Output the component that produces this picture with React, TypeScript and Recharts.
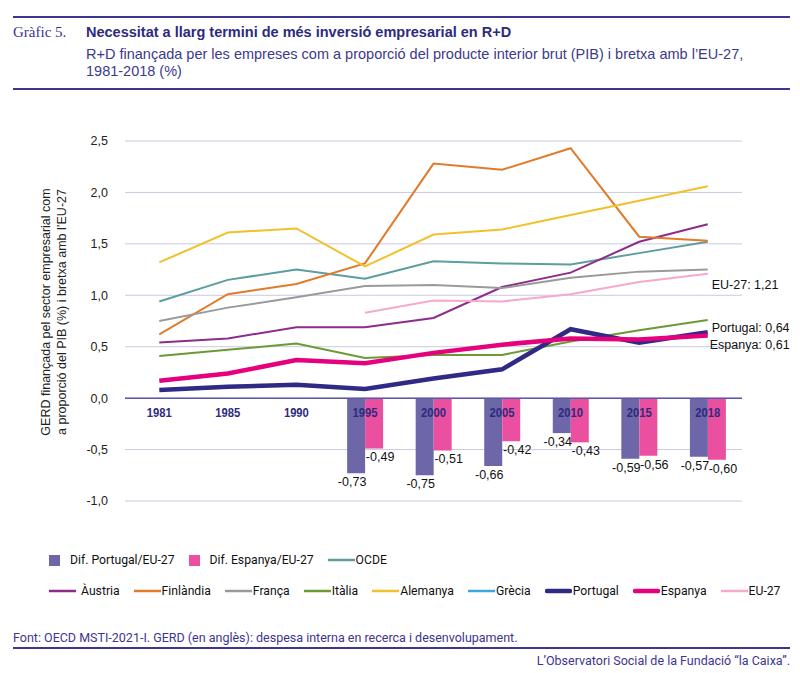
import React from 'react';
import {
  ComposedChart,
  Bar,
  Line,
  XAxis,
  YAxis,
  CartesianGrid,
  ReferenceLine,
  LabelList,
} from 'recharts';

const years = ['1981', '1985', '1990', '1995', '2000', '2005', '2010', '2015', '2018'];

const austria = [0.54, 0.58, 0.69, 0.69, 0.78, 1.08, 1.22, 1.52, 1.69];
const finland = [0.62, 1.01, 1.11, 1.31, 2.28, 2.22, 2.43, 1.57, 1.53];
const france = [0.75, 0.88, 0.98, 1.09, 1.1, 1.07, 1.17, 1.23, 1.25];
const italy = [0.41, 0.47, 0.53, 0.39, 0.42, 0.42, 0.55, 0.66, 0.76];
const germany = [1.32, 1.61, 1.65, 1.28, 1.59, 1.64, 1.78, 1.92, 2.06];
const greece = [null, null, null, null, null, null, null, null, null];
const portugal = [0.08, 0.11, 0.13, 0.09, 0.19, 0.28, 0.67, 0.54, 0.64];
const spain = [0.17, 0.24, 0.37, 0.34, 0.44, 0.52, 0.58, 0.57, 0.61];
const eu27 = [null, null, null, 0.83, 0.95, 0.94, 1.01, 1.13, 1.21];
const oecd = [0.94, 1.15, 1.25, 1.16, 1.33, 1.31, 1.3, 1.41, 1.52];

const difPortugal = [null, null, null, -0.73, -0.75, -0.66, -0.34, -0.59, -0.57];
const difSpain = [null, null, null, -0.49, -0.51, -0.42, -0.43, -0.56, -0.6];

const yTicks = [-1, -0.5, 0, 0.5, 1, 1.5, 2, 2.5];

const data = years.map((year, i) => ({
  year,
  zero: 0,
  austria: austria[i],
  finland: finland[i],
  france: france[i],
  italy: italy[i],
  germany: germany[i],
  greece: greece[i],
  portugal: portugal[i],
  spain: spain[i],
  eu27: eu27[i],
  oecd: oecd[i],
  difPortugal: difPortugal[i],
  difSpain: difSpain[i],
}));

const PURPLE = '#2e2a7e';
const NARROW = "Roboto, 'Liberation Sans', sans-serif";
const SANS = "'Liberation Sans', Arial, sans-serif";

const lines = [
  { key: 'oecd', name: 'OCDE', color: '#5c9d9d', width: 2 },
  { key: 'austria', name: 'Àustria', color: '#8e2c8c', width: 2 },
  { key: 'finland', name: 'Finlàndia', color: '#e07b29', width: 2 },
  { key: 'france', name: 'França', color: '#9a9a9a', width: 2 },
  { key: 'italy', name: 'Itàlia', color: '#6b9a35', width: 2 },
  { key: 'germany', name: 'Alemanya', color: '#f0c12a', width: 2 },
  { key: 'greece', name: 'Grècia', color: '#3ba7dd', width: 2 },
  { key: 'portugal', name: 'Portugal', color: '#2e2a86', width: 4.5 },
  { key: 'spain', name: 'Espanya', color: '#e5007d', width: 4.5 },
  { key: 'eu27', name: 'EU-27', color: '#f5a9cb', width: 2 },
];

const bars = [
  { key: 'difPortugal', name: 'Dif. Portugal/EU-27', color: '#6d66a9', dx: -4 },
  { key: 'difSpain', name: 'Dif. Espanya/EU-27', color: '#eb4f9f', dx: 6 },
];

const endLabels: Record<string, { text: string; dx: number; dy: number }> = {
  eu27: { text: 'EU-27: 1,21', dx: 4, dy: 11 },
  portugal: { text: 'Portugal: 0,64', dx: 4, dy: -4 },
  spain: { text: 'Espanya: 0,61', dx: 2, dy: 10 },
};

const fmt = (v: number) => v.toFixed(2).replace('.', ',');

function YearTick(props: any) {
  const { cx, cy, payload, index } = props;
  if (cx == null || cy == null) return null;
  return (
    <text
      key={`yr-${index}`}
      x={cx}
      y={cy + 19}
      textAnchor="middle"
      fontFamily={SANS}
      fontWeight="bold"
      fontSize={12.5}
      fill={PURPLE}
      textLength={25}
      lengthAdjust="spacingAndGlyphs"
    >
      {payload.year}
    </text>
  );
}

function YTitle(props: any) {
  const { viewBox } = props;
  const cy = viewBox.y + viewBox.height / 2 - 9;
  return (
    <g fontFamily={SANS} fontSize={12.5} fill="#222" textAnchor="middle">
      <text transform={`translate(50, ${cy}) rotate(-90)`}>GERD finançada pel sector empresarial com</text>
      <text transform={`translate(66, ${cy}) rotate(-90)`}>a proporció del PIB (%) i bretxa amb l’EU-27</text>
    </g>
  );
}

function LegendLine({ color, width }: { color: string; width: number }) {
  const thick = width > 3;
  return (
    <svg width={27} height={8} style={{ display: 'block', flexShrink: 0 }}>
      <line
        x1={thick ? 2 : 0}
        y1={4}
        x2={thick ? 25 : 27}
        y2={4}
        stroke={color}
        strokeWidth={thick ? 4.5 : 2.5}
        strokeLinecap={thick ? 'round' : 'butt'}
      />
    </svg>
  );
}

function ChartLegend() {
  const itemStyle: React.CSSProperties = { display: 'flex', alignItems: 'center', marginRight: 14, flexShrink: 0 };
  const textStyle: React.CSSProperties = { fontFamily: NARROW, fontSize: 12.2, color: '#111', whiteSpace: 'nowrap' };
  const row2 = lines.slice(1);
  return (
    <div style={{ position: 'absolute', left: 49, top: 550, width: 760 }}>
      <div style={{ display: 'flex', alignItems: 'center', height: 20 }}>
        {bars.map((b) => (
          <div key={b.key} style={itemStyle}>
            <div style={{ width: 11, height: 11, background: b.color, marginRight: 10 }} />
            <span style={textStyle}>{b.name}</span>
          </div>
        ))}
        <div style={itemStyle}>
          <LegendLine color={lines[0].color} width={lines[0].width} />
          <span style={{ ...textStyle, marginLeft: 1 }}>{lines[0].name}</span>
        </div>
      </div>
      <div style={{ display: 'flex', alignItems: 'center', height: 20, marginTop: 11 }}>
        {row2.map((l, i) => (
          <div key={l.key} style={itemStyle}>
            <LegendLine color={l.color} width={l.width} />
            <span style={{ ...textStyle, marginLeft: i === 0 ? 5 : 1 }}>{l.name}</span>
          </div>
        ))}
      </div>
    </div>
  );
}

export default function App() {
  return (
    <div style={{ position: 'absolute', left: 0, top: 0, width: 800, height: 673, background: '#fff', overflow: 'hidden' }}>
      <div style={{ position: 'absolute', left: 13, top: 16, width: 777, height: 2, background: '#3d3590' }} />
      <div style={{ position: 'absolute', left: 13, top: 24, fontFamily: "'Liberation Serif', serif", fontSize: 15, color: '#3d3590' }}>
        Gràfic 5.
      </div>
      <div style={{ position: 'absolute', left: 86, top: 24, fontFamily: SANS, fontWeight: 'bold', fontSize: 14.5, color: PURPLE }}>
        Necessitat a llarg termini de més inversió empresarial en R+D
      </div>
      <div style={{ position: 'absolute', left: 86, top: 46, width: 690, fontFamily: SANS, fontSize: 14.5, lineHeight: '17px', color: '#3d3a8a' }}>
        R+D finançada per les empreses com a proporció del producte interior brut (PIB) i bretxa amb l’EU-27,
        <br />
        1981-2018 (%)
      </div>
      <div style={{ position: 'absolute', left: 13, top: 88, width: 777, height: 2, background: '#3d3590' }} />

      <div style={{ position: 'absolute', left: 0, top: 0 }}>
        <ComposedChart
          width={800}
          height={673}
          data={data}
          margin={{ top: 141, right: 58, bottom: 172, left: 0 }}
          barCategoryGap="24%"
          barGap={0}
        >
          <CartesianGrid vertical={false} stroke="#cbc8e3" strokeWidth={1} />
          <XAxis dataKey="year" hide />
          <YAxis
            type="number"
            domain={[-1, 2.5]}
            ticks={yTicks}
            width={125}
            axisLine={false}
            tickLine={false}
            tickSize={0}
            tickMargin={17}
            tickFormatter={(v: number) => v.toFixed(1).replace('.', ',')}
            tick={{ fontFamily: SANS, fontSize: 12.5, fill: '#222' }}
            label={<YTitle />}
          />
          {bars.map((b) => (
            <Bar key={b.key} dataKey={b.key} name={b.name} fill={b.color} isAnimationActive={false}>
              <LabelList
                dataKey={b.key}
                position="top"
                offset={4}
                formatter={(v: any) => (v == null ? '' : fmt(v))}
                style={{ fontFamily: SANS, fontSize: 12.5, fill: '#111' }}
                dx={b.dx}
              />
            </Bar>
          ))}
          <ReferenceLine y={0} stroke="#5d57a8" strokeWidth={1.5} />
          <Line
            dataKey="zero"
            stroke="none"
            dot={<YearTick />}
            activeDot={false}
            legendType="none"
            isAnimationActive={false}
          />
          {lines.map((l) => (
            <Line
              key={l.key}
              type="linear"
              dataKey={l.key}
              name={l.name}
              stroke={l.color}
              strokeWidth={l.width}
              dot={false}
              activeDot={false}
              isAnimationActive={false}
            >
              {endLabels[l.key] && (
                <LabelList
                  dataKey={l.key}
                  content={(p: any) =>
                    p.index === years.length - 1 ? (
                      <text
                        x={p.x + endLabels[l.key].dx}
                        y={p.y + endLabels[l.key].dy + 4}
                        fontFamily={SANS}
                        fontSize={12.5}
                        fill="#111"
                      >
                        {endLabels[l.key].text}
                      </text>
                    ) : null
                  }
                />
              )}
            </Line>
          ))}
        </ComposedChart>
      </div>

      <ChartLegend />

      <div style={{ position: 'absolute', left: 13, top: 630, fontFamily: NARROW, fontSize: 12.5, color: '#3d3590' }}>
        Font: OECD MSTI-2021-I. GERD (en anglès): despesa interna en recerca i desenvolupament.
      </div>
      <div style={{ position: 'absolute', left: 13, top: 647, width: 777, height: 2, background: '#3d3590' }} />
      <div style={{ position: 'absolute', right: 10, top: 653, fontFamily: NARROW, fontSize: 12.5, color: '#3d3590' }}>
        L’Observatori Social de la Fundació “la Caixa”.
      </div>
    </div>
  );
}
